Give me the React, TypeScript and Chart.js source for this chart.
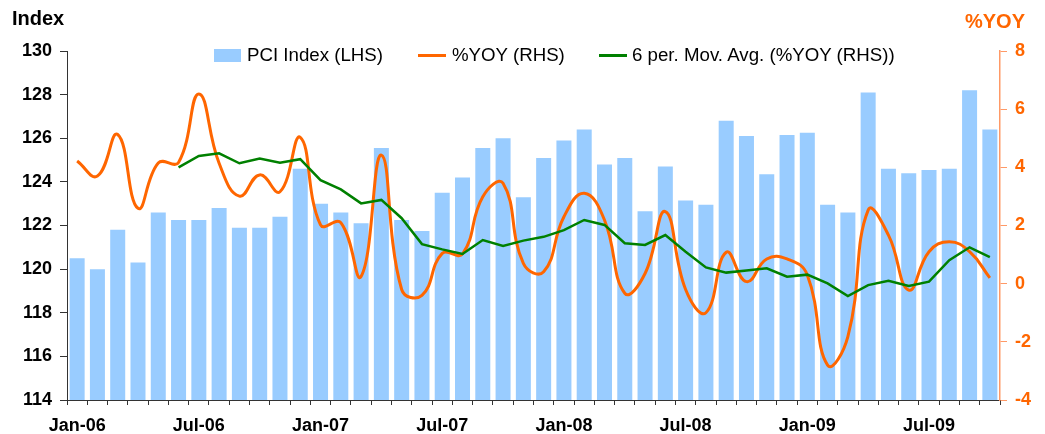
import React, { useEffect, useRef } from 'react';
import { Chart, registerables } from 'chart.js';

Chart.register(...registerables);

const months = [
  'Jan-06', 'Feb-06', 'Mar-06', 'Apr-06', 'May-06', 'Jun-06', 'Jul-06', 'Aug-06', 'Sep-06', 'Oct-06', 'Nov-06', 'Dec-06',
  'Jan-07', 'Feb-07', 'Mar-07', 'Apr-07', 'May-07', 'Jun-07', 'Jul-07', 'Aug-07', 'Sep-07', 'Oct-07', 'Nov-07', 'Dec-07',
  'Jan-08', 'Feb-08', 'Mar-08', 'Apr-08', 'May-08', 'Jun-08', 'Jul-08', 'Aug-08', 'Sep-08', 'Oct-08', 'Nov-08', 'Dec-08',
  'Jan-09', 'Feb-09', 'Mar-09', 'Apr-09', 'May-09', 'Jun-09', 'Jul-09', 'Aug-09', 'Sep-09', 'Oct-09',
];

const pciIndex = [
  120.5, 120.0, 121.8, 120.3, 122.6, 122.25, 122.25, 122.8, 121.9, 121.9, 122.4, 124.6,
  123.0, 122.6, 122.1, 125.55, 122.25, 121.75, 123.5, 124.2, 125.55, 126.0, 123.3, 125.1,
  125.9, 126.4, 124.8, 125.1, 122.65, 124.7, 123.15, 122.95, 126.8, 126.1, 124.35, 126.15,
  126.25, 122.95, 122.6, 128.1, 124.6, 124.4, 124.55, 124.6, 128.2, 126.4,
];

const yoy = [
  4.22, 3.7, 5.13, 2.59, 4.15, 4.17, 6.52, 4.14, 3.01, 3.74, 3.16, 5.03,
  2.02, 2.1, 0.25, 4.42, -0.2, -0.4, 1.04, 1.02, 2.99, 3.45, 0.7, 0.41,
  2.3, 3.11, 2.19, -0.33, 0.35, 2.48, -0.2, -1.0, 1.08, 0.07, 0.85, 0.85,
  0.3, -2.8, -1.82, 2.53, 1.67, -0.22, 1.1, 1.44, 1.1, 0.2,
];

const movAvg = [
  null, null, null, null, null, 4.0, 4.39, 4.48, 4.14, 4.3, 4.16, 4.28,
  3.56, 3.24, 2.76, 2.88, 2.25, 1.36, 1.18, 1.02, 1.5, 1.3, 1.48, 1.61,
  1.84, 2.19, 2.02, 1.39, 1.33, 1.67, 1.1, 0.56, 0.38, 0.45, 0.53, 0.24,
  0.31, 0.01, -0.43, -0.05, 0.1, -0.08, 0.07, 0.81, 1.25, 0.91,
];

const leftMin = 114;
const leftMax = 130;
const rightMin = -4;
const rightMax = 8;
const tickStep = 2;

const FONT = '"Liberation Sans", Arial, sans-serif';
const BLUE = '#99CCFF';
const ORANGE = '#FF6600';
const GREEN = '#008000';

export default function App() {
  const ref = useRef<HTMLCanvasElement>(null);

  useEffect(() => {
    if (!ref.current) return;
    const chart = new Chart(ref.current, {
      type: 'bar',
      data: {
        labels: months,
        datasets: [
          {
            type: 'line',
            label: '6 per. Mov. Avg. (%YOY (RHS))',
            data: movAvg as any,
            yAxisID: 'y1',
            borderColor: GREEN,
            backgroundColor: GREEN,
            borderWidth: 2.5,
            pointRadius: 0,
            tension: 0,
            order: 1,
          },
          {
            type: 'line',
            label: '%YOY (RHS)',
            data: yoy,
            yAxisID: 'y1',
            borderColor: ORANGE,
            backgroundColor: ORANGE,
            borderWidth: 3,
            pointRadius: 0,
            tension: 0.45,
            order: 2,
          },
          {
            type: 'bar',
            label: 'PCI Index (LHS)',
            data: pciIndex,
            yAxisID: 'y',
            backgroundColor: BLUE,
            barPercentage: 0.74,
            categoryPercentage: 1,
            order: 3,
          },
        ],
      },
      options: {
        responsive: false,
        animation: false,
        layout: { padding: { top: 51, left: 0, right: 0, bottom: 0 } },
        plugins: { legend: { display: false }, tooltip: { enabled: false } },
        scales: {
          x: {
            offset: true,
            grid: {
              display: true,
              drawOnChartArea: false,
              offset: true,
              tickLength: 5,
              tickColor: '#333333',
            },
            border: { color: '#333333', width: 1 },
            ticks: {
              autoSkip: false,
              maxRotation: 0,
              minRotation: 0,
              padding: 10,
              color: '#000000',
              font: { family: FONT, size: 18, weight: 'bold' },
              callback: (_v: any, i: number) => (i % 6 === 0 ? months[i] : ''),
            },
            afterFit: (s: any) => {
              s.height = 34;
            },
          },
          y: {
            position: 'left',
            min: leftMin,
            max: leftMax,
            grid: { drawOnChartArea: false, tickLength: 7, tickColor: '#333333' },
            border: { color: '#333333', width: 1 },
            ticks: {
              stepSize: tickStep,
              padding: 8,
              color: '#000000',
              font: { family: FONT, size: 18, weight: 'bold' },
            },
            afterFit: (s: any) => {
              s.width = 67;
            },
          },
          y1: {
            position: 'right',
            min: rightMin,
            max: rightMax,
            grid: { drawOnChartArea: false, tickLength: 7, tickColor: '#FF9966' },
            border: { color: '#FF9966', width: 1.5 },
            ticks: {
              stepSize: tickStep,
              padding: 8,
              color: ORANGE,
              font: { family: FONT, size: 18, weight: 'bold' },
            },
            afterFit: (s: any) => {
              s.width = 45;
            },
          },
        },
      },
    });
    return () => chart.destroy();
  }, []);

  const text: React.CSSProperties = {
    position: 'absolute',
    fontFamily: FONT,
    fontSize: 18.7,
    color: '#000',
    lineHeight: '20px',
    whiteSpace: 'nowrap',
  };

  return (
    <div style={{ position: 'absolute', left: 0, top: 0, width: 1045, height: 434, background: '#fff' }}>
      <canvas ref={ref} width={1045} height={434} style={{ display: 'block', width: 1045, height: 434 }} />
      <div style={{ ...text, left: 12, top: 8, fontSize: 20, fontWeight: 'bold' }}>Index</div>
      <div style={{ ...text, left: 965, top: 11, fontSize: 20, fontWeight: 'bold', color: ORANGE }}>%YOY</div>
      <div style={{ position: 'absolute', left: 214, top: 49, width: 27, height: 13, background: BLUE }} />
      <div style={{ ...text, left: 247, top: 45 }}>PCI Index (LHS)</div>
      <div style={{ position: 'absolute', left: 418, top: 54, width: 28, height: 3, background: ORANGE }} />
      <div style={{ ...text, left: 452, top: 45 }}>%YOY (RHS)</div>
      <div style={{ position: 'absolute', left: 599, top: 54, width: 28, height: 3, background: GREEN }} />
      <div style={{ ...text, left: 632, top: 45 }}>6 per. Mov. Avg. (%YOY (RHS))</div>
    </div>
  );
}
